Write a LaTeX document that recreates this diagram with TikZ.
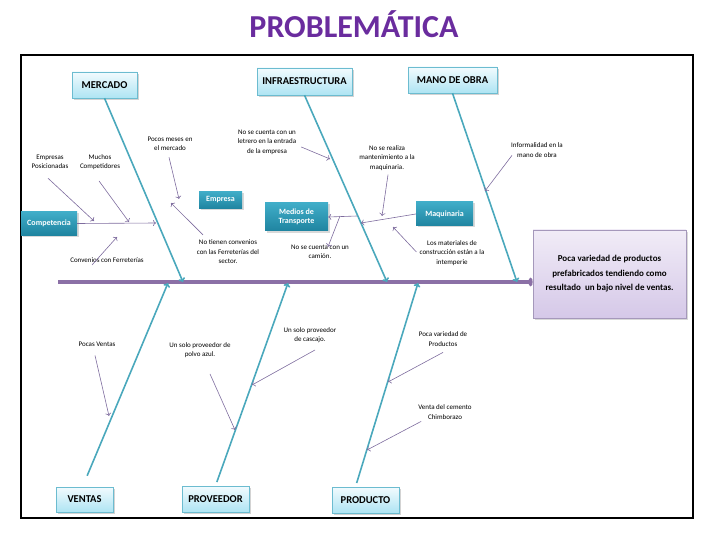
\documentclass[tikz,border=0pt]{standalone}
\usepackage{fontspec}
\setmainfont{Carlito}
\usetikzlibrary{shadows,arrows.meta}

\definecolor{titlecol}{HTML}{6A2C9E}
\definecolor{spinecol}{HTML}{8B70A6}
\definecolor{bonecol}{HTML}{4AA8BC}
\definecolor{linkcol}{HTML}{7E6C9E}
\definecolor{catline}{HTML}{6CBCD0}
\definecolor{cattop}{HTML}{F2FBFE}
\definecolor{catbot}{HTML}{AEE4F3}
\definecolor{subtop}{HTML}{40ADC8}
\definecolor{subbot}{HTML}{1F84A0}
\definecolor{efftop}{HTML}{F1ECF7}
\definecolor{effbot}{HTML}{D5C8E8}

\tikzset{
  category/.style={draw=catline, top color=cattop, bottom color=catbot,
    font=\bfseries\fontsize{10.5}{12}\selectfont, inner sep=2pt,
    drop shadow={shadow xshift=2pt, shadow yshift=-2pt, opacity=0.35}},
  subcat/.style={top color=subtop, bottom color=subbot, text=white,
    font=\bfseries\fontsize{8}{9.5}\selectfont, align=center, inner sep=1pt,
    drop shadow={shadow xshift=1.5pt, shadow yshift=-1.5pt, opacity=0.3}},
  cause/.style={align=center, font=\fontsize{7}{9.5}\selectfont, inner sep=1pt},
  bone/.style={draw=bonecol, line width=1.6pt, -{To[length=4pt, width=7pt]}},
  link/.style={draw=linkcol, line width=0.6pt, -{To[length=3pt, width=6pt]}},
}

\begin{document}
\begin{tikzpicture}[x=1pt, y=-1pt]
  \useasboundingbox (0,0) rectangle (720,540);

  % === Title and frame ===
  \node[font=\bfseries\fontsize{32}{36}\selectfont, text=titlecol] (title) at (354,24) {PROBLEMÁTICA};
  \draw[line width=2pt] (21,55) rectangle (693,518);

  % === Effect box and spine ===
  \node[draw=linkcol!70, top color=efftop, bottom color=effbot, minimum width=153pt, minimum height=88pt,
        align=center, font=\bfseries\fontsize{9}{14.5}\selectfont,
        drop shadow={shadow xshift=2pt, shadow yshift=-2pt, opacity=0.3}] (effect) at (609.5,274)
        {Poca variedad de productos\\prefabricados tendiendo como\\resultado \ un bajo nivel de ventas.};
  \coordinate (tail) at (58,282);
  \draw[spinecol, line width=3.5pt, -{To[length=4pt, width=9pt]}] (tail) -- (tail -| effect.west);

  % === Categories (top) ===
  \node[category, minimum width=65pt, minimum height=26pt] (mercado) at (104.5,85) {MERCADO};
  \node[category, minimum width=95pt, minimum height=27pt] (infra) at (304.5,81.5) {INFRAESTRUCTURA};
  \node[category, minimum width=89pt, minimum height=26pt] (mano) at (452.5,80) {MANO DE OBRA};

  % === Categories (bottom) ===
  \node[category, minimum width=57pt, minimum height=25pt] (ventas) at (84.5,499.5) {VENTAS};
  \node[category, minimum width=67pt, minimum height=26pt] (proveedor) at (215.5,499) {PROVEEDOR};
  \node[category, minimum width=67pt, minimum height=26pt] (producto) at (365.5,500) {PRODUCTO};

  % === Bones ===
  \coordinate (mS) at (183,282);
  \coordinate (iS) at (387,282);
  \coordinate (oS) at (517,282);
  \coordinate (vS) at (168,283);
  \coordinate (pS) at (288,283);
  \coordinate (dS) at (418,283);
  \draw[bone] (mercado.south) -- (mS);
  \draw[bone] (infra.south) -- (iS);
  \draw[bone] (mano.south) -- (oS);
  \draw[bone, shorten <=12pt] ([xshift=-2pt]ventas.north) -- (vS);
  \draw[bone, shorten <=4pt] (proveedor.north) -- (pS);
  \draw[bone, shorten <=4pt] ([xshift=-10pt]producto.north) -- (dS);

  % === Sub-categories ===
  \node[subcat, minimum width=56pt, minimum height=23pt] (competencia) at (49,223.5) {Competencia};
  \node[subcat, minimum width=43pt, minimum height=17pt] (empresa) at (220.5,200) {Empresa};
  \node[subcat, minimum width=63pt, minimum height=28pt] (medios) at (296.5,217) {Medios de\\Transporte};
  \node[subcat, minimum width=57pt, minimum height=24pt] (maquinaria) at (444.5,214) {Maquinaria};

  % Heads on the bones
  \coordinate (compH) at (156,223);
  \coordinate (maqH) at (361,223);
  \coordinate (medT) at (357,216);
  \coordinate (camT) at (340,216);
  \draw[link] (competencia.east) -- (compH);
  \draw[link] (maquinaria.west) -- (maqH);
  \draw[link] (medT) -- (medios.east);

  % === Causes: MERCADO ===
  \node[cause] (posicionadas) at (50,162) {Empresas\\Posicionadas};
  \node[cause] (competidores) at (100,162) {Muchos\\Competidores};
  \node[cause] (meses) at (170,144) {Pocos meses en\\el mercado};
  \node[cause] (convenios) at (107,260) {Convenios con Ferreterías};
  \node[cause] (sinConv) at (228,252) {No tienen convenios\\con las Ferreterías del\\sector.};
  \coordinate (posH) at (94,221);
  \coordinate (compeH) at (129,222);
  \coordinate (mesH) at (179,199);
  \coordinate (convH) at (117,237);
  \coordinate (sinH) at (171,203);
  \draw[link] ([shift={(-2,8)}]posicionadas.south) -- (posH);
  \draw[link] ([shift={(-1,10)}]competidores.south) -- (compeH);
  \draw[link] ([shift={(-1,5)}]meses.south) -- (mesH);
  \draw[link] ([shift={(-15,5)}]convenios.center) -- (convH);
  \draw[link] ([shift={(-25,-4)}]sinConv.north) -- (sinH);

  % === Causes: INFRAESTRUCTURA ===
  \node[cause] (letrero) at (267,142) {No se cuenta con un\\letrero en la entrada\\de la empresa};
  \node[cause] (mant) at (387,158) {No se realiza\\mantenimiento a la\\maquinaria.};
  \node[cause] (camion) at (320,252) {No se cuenta con un\\camión.};
  \node[cause] (intemperie) at (452,253) {Los materiales de\\construcción están a la\\intemperie};
  \coordinate (letH) at (330,159);
  \coordinate (manH) at (382,216);
  \coordinate (intH) at (393,227);
  \draw[link] ([shift={(4,5)}]letrero.east) -- (letH);
  \draw[link] ([shift={(1,3)}]mant.south) -- (manH);
  \draw[link] (camT) -- ([xshift=8pt, yshift=-3pt]camion.north);
  \draw[link] ([shift={(-2,-1)}]intemperie.west) -- (intH);

  % === Causes: MANO DE OBRA ===
  \node[cause] (informal) at (537,150) {Informalidad en la\\mano de obra};
  \coordinate (infH) at (485,191);
  \draw[link] ([shift={(2,-3)}]informal.south west) -- (infH);

  % === Causes: bottom ===
  \node[cause] (pocas) at (97,344) {Pocas Ventas};
  \node[cause] (polvo) at (200,350) {Un solo proveedor de\\polvo azul.};
  \node[cause] (cascajo) at (310,335) {Un solo proveedor\\de cascajo.};
  \node[cause] (variedad) at (443,339) {Poca variedad de\\Productos};
  \node[cause] (cemento) at (445,412) {Venta del cemento\\Chimborazo};
  \coordinate (pocH) at (109,416);
  \coordinate (polH) at (235,430);
  \coordinate (casH) at (252,385);
  \coordinate (varH) at (388,382);
  \coordinate (cemH) at (367,450);
  \draw[link] ([shift={(-2,8)}]pocas.south) -- (pocH);
  \draw[link] ([shift={(10,15)}]polvo.south) -- (polH);
  \draw[link] ([shift={(5,6)}]cascajo.south) -- (casH);
  \draw[link] ([shift={(0,5)}]variedad.south) -- (varH);
  \draw[link] ([shift={(4,1)}]cemento.south west) -- (cemH);

\end{tikzpicture}
\end{document}
